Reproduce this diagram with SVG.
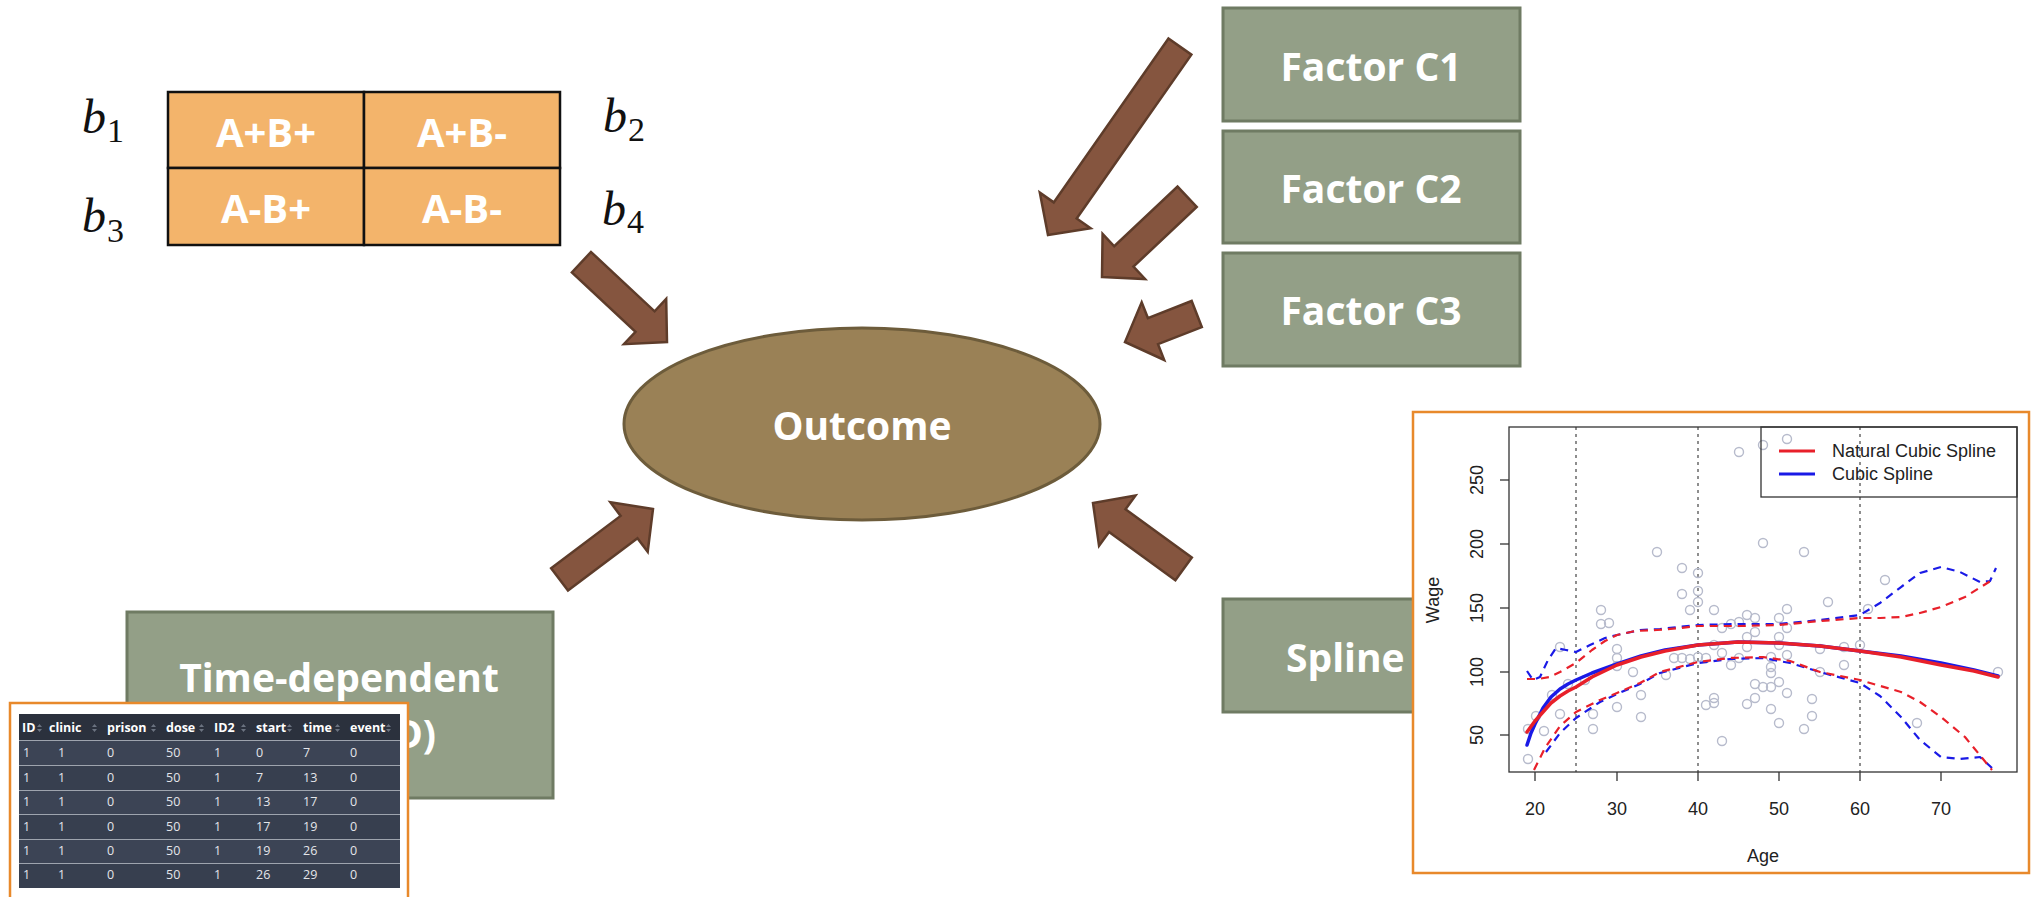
<svg xmlns="http://www.w3.org/2000/svg" width="2036" height="897" viewBox="0 0 2036 897">
  <style>
    .box { fill: #939f87; stroke: #6f7b63; stroke-width: 3; }
    .lbl { font-family: "Open Sans", "Liberation Sans", sans-serif; font-weight: 700; font-size: 39px; fill: #ffffff; }
    .cell { fill: #f3b46b; stroke: #111111; stroke-width: 2.5; }
    .cellt { font-family: "Open Sans", "Liberation Sans", sans-serif; font-weight: 700; font-size: 40px; fill: #ffffff; text-anchor: middle; }
    .coef { font-family: "Liberation Serif", "DejaVu Serif", serif; font-style: italic; font-size: 48px; fill: #111111; }
    .sub { font-family: "Liberation Serif", "DejaVu Serif", serif; font-size: 34px; fill: #111111; }
    .arrow { fill: #85553f; stroke: #5e3c2a; stroke-width: 2.5; stroke-linejoin: miter; }
    .frame { fill: #ffffff; stroke: #e8892b; stroke-width: 2.5; }
    .ax { font-family: "Liberation Sans", Arial, sans-serif; font-size: 18px; fill: #222222; }
    .pt { fill: none; stroke: #b7bbcc; stroke-width: 1.4; }
    .solid { fill: none; stroke-width: 3.5; stroke-linejoin: round; stroke-linecap: round; }
    .dash { fill: none; stroke-width: 2.2; stroke-dasharray: 8 6; stroke-linejoin: round; }
    .th { font-family: "Open Sans", "Liberation Sans", sans-serif; font-weight: 700; font-size: 12.5px; fill: #ffffff; }
    .td { font-family: "Open Sans", "Liberation Sans", sans-serif; font-size: 12.5px; fill: #e4e6ea; }
    .sort { fill: #6b7380; }
  </style>
  <defs>
    <!-- block arrow, tip at origin, length set per use -->
    <polygon id="arrow117" class="arrow" points="0,0 -30,-31 -30,-14 -117,-14 -117,14 -30,14 -30,31"/>
  </defs>

  <!-- 2x2 contrast table with coefficients -->
  <g id="contrast-table">
    <rect class="cell" x="168" y="92" width="196" height="76"/>
    <rect class="cell" x="364" y="92" width="196" height="76"/>
    <rect class="cell" x="168" y="168" width="196" height="77"/>
    <rect class="cell" x="364" y="168" width="196" height="77"/>
    <text class="cellt" x="266" y="147">A+B+</text>
    <text class="cellt" x="462" y="147">A+B-</text>
    <text class="cellt" x="266" y="223">A-B+</text>
    <text class="cellt" x="462" y="223">A-B-</text>
    <text class="coef" x="82" y="133">b</text><text class="sub" x="107" y="142">1</text>
    <text class="coef" x="603" y="132">b</text><text class="sub" x="628" y="141">2</text>
    <text class="coef" x="82" y="232">b</text><text class="sub" x="107" y="242">3</text>
    <text class="coef" x="602" y="225">b</text><text class="sub" x="627" y="233">4</text>
  </g>

  <!-- central outcome -->
  <g id="outcome">
    <ellipse cx="862" cy="424" rx="238" ry="96" fill="#9a8156" stroke="#6d5c3b" stroke-width="3"/>
    <text class="lbl" x="862" y="440" text-anchor="middle">Outcome</text>
  </g>

  <g id="factor-c1">
    <rect class="box" x="1223" y="8" width="297" height="113"/>
    <text class="lbl" x="1371" y="81" text-anchor="middle">Factor C1</text>
  </g>
  <g id="factor-c2">
    <rect class="box" x="1223" y="131" width="297" height="112"/>
    <text class="lbl" x="1371" y="203" text-anchor="middle">Factor C2</text>
  </g>
  <g id="factor-c3">
    <rect class="box" x="1223" y="253" width="297" height="113"/>
    <text class="lbl" x="1371" y="325" text-anchor="middle">Factor C3</text>
  </g>

  <!-- connectors -->
  <g id="connectors">
    <use href="#arrow117" transform="translate(667,342) rotate(43)"/>
    <use href="#arrow117" transform="translate(653,509) rotate(-37)"/>
    <polygon class="arrow" points="0,0 -30,-31 -30,-14 -112,-14 -112,14 -30,14 -30,31" transform="translate(1093,503) rotate(216)"/>
    <polygon class="arrow" points="0,0 -30,-31 -30,-14 -230,-14 -230,14 -30,14 -30,31" transform="translate(1048,235) rotate(125)"/>
    <use href="#arrow117" transform="translate(1102,277) rotate(136.7)"/>
    <polygon class="arrow" points="0,0 -30,-31 -30,-14 -77,-14 -77,14 -30,14 -30,31" transform="translate(1125,342) rotate(158.7)"/>
  </g>

  <!-- time-dependent covariate node with data excerpt -->
  <g id="time-dependent">
    <rect class="box" x="127" y="612" width="426" height="186"/>
    <text class="lbl" x="339" y="692" text-anchor="middle">Time-dependent</text>
    <text class="lbl" x="436" y="748" text-anchor="end">D)</text>
    <g id="td-table">
      <rect class="frame" x="10" y="703" width="398" height="200"/>
      <rect x="19" y="714" width="381" height="26" fill="#2b313d"/>
      <rect x="19" y="740" width="381" height="148" fill="#3c4455"/>
      <rect x="19" y="765" width="381" height="25" fill="#373f4f"/>
      <rect x="19" y="815" width="381" height="24" fill="#373f4f"/>
      <rect x="19" y="863" width="381" height="25" fill="#373f4f"/>
      <g stroke="#9ea4ae" stroke-width="1">
        <line x1="19" y1="740.5" x2="400" y2="740.5"/>
        <line x1="19" y1="765.5" x2="400" y2="765.5"/>
        <line x1="19" y1="790.5" x2="400" y2="790.5"/>
        <line x1="19" y1="814.5" x2="400" y2="814.5"/>
        <line x1="19" y1="839.5" x2="400" y2="839.5"/>
        <line x1="19" y1="863.5" x2="400" y2="863.5"/>
      </g>
      <g class="th">
        <text x="22" y="732">ID</text>
        <text x="49" y="732">clinic</text>
        <text x="107" y="732">prison</text>
        <text x="166" y="732">dose</text>
        <text x="214" y="732">ID2</text>
        <text x="256" y="732">start</text>
        <text x="303" y="732">time</text>
        <text x="350" y="732">event</text>
      </g>
      <g class="sort">
        <path d="M37,727 l2.5,-3 2.5,3z M37,729 l2.5,3 2.5,-3z"/>
        <path d="M92,727 l2.5,-3 2.5,3z M92,729 l2.5,3 2.5,-3z"/>
        <path d="M151,727 l2.5,-3 2.5,3z M151,729 l2.5,3 2.5,-3z"/>
        <path d="M199,727 l2.5,-3 2.5,3z M199,729 l2.5,3 2.5,-3z"/>
        <path d="M241,727 l2.5,-3 2.5,3z M241,729 l2.5,3 2.5,-3z"/>
        <path d="M287,727 l2.5,-3 2.5,3z M287,729 l2.5,3 2.5,-3z"/>
        <path d="M335,727 l2.5,-3 2.5,3z M335,729 l2.5,3 2.5,-3z"/>
        <path d="M386,727 l2.5,-3 2.5,3z M386,729 l2.5,3 2.5,-3z"/>
      </g>
      <g class="td">
        <text y="757"><tspan x="23">1</tspan><tspan x="58">1</tspan><tspan x="107">0</tspan><tspan x="166">50</tspan><tspan x="214">1</tspan><tspan x="256">0</tspan><tspan x="303">7</tspan><tspan x="350">0</tspan></text>
        <text y="782"><tspan x="23">1</tspan><tspan x="58">1</tspan><tspan x="107">0</tspan><tspan x="166">50</tspan><tspan x="214">1</tspan><tspan x="256">7</tspan><tspan x="303">13</tspan><tspan x="350">0</tspan></text>
        <text y="806"><tspan x="23">1</tspan><tspan x="58">1</tspan><tspan x="107">0</tspan><tspan x="166">50</tspan><tspan x="214">1</tspan><tspan x="256">13</tspan><tspan x="303">17</tspan><tspan x="350">0</tspan></text>
        <text y="831"><tspan x="23">1</tspan><tspan x="58">1</tspan><tspan x="107">0</tspan><tspan x="166">50</tspan><tspan x="214">1</tspan><tspan x="256">17</tspan><tspan x="303">19</tspan><tspan x="350">0</tspan></text>
        <text y="855"><tspan x="23">1</tspan><tspan x="58">1</tspan><tspan x="107">0</tspan><tspan x="166">50</tspan><tspan x="214">1</tspan><tspan x="256">19</tspan><tspan x="303">26</tspan><tspan x="350">0</tspan></text>
        <text y="879"><tspan x="23">1</tspan><tspan x="58">1</tspan><tspan x="107">0</tspan><tspan x="166">50</tspan><tspan x="214">1</tspan><tspan x="256">26</tspan><tspan x="303">29</tspan><tspan x="350">0</tspan></text>
      </g>
    </g>
  </g>

  <!-- spline node with fitted wage-age plot -->
  <g id="spline">
    <rect class="box" x="1223" y="599" width="297" height="113"/>
    <text class="lbl" x="1286" y="672">Spline</text>
    <g id="spline-plot">
      <rect class="frame" x="1413" y="412" width="616" height="461"/>
      <!-- knots -->
      <g stroke="#444444" stroke-width="1.2" stroke-dasharray="3 4">
        <line x1="1576" y1="427" x2="1576" y2="772"/>
        <line x1="1698" y1="427" x2="1698" y2="772"/>
        <line x1="1860" y1="427" x2="1860" y2="772"/>
      </g>
      <!-- observations -->
      <g class="pt">
        <circle cx="1787" cy="439" r="4.5"/><circle cx="1763" cy="445" r="4.5"/><circle cx="1739" cy="452" r="4.5"/>
        <circle cx="1657" cy="552" r="4.5"/><circle cx="1763" cy="543" r="4.5"/><circle cx="1804" cy="552" r="4.5"/>
        <circle cx="1682" cy="568" r="4.5"/><circle cx="1698" cy="573" r="4.5"/><circle cx="1698" cy="591" r="4.5"/>
        <circle cx="1682" cy="594" r="4.5"/><circle cx="1698" cy="602" r="4.5"/><circle cx="1690" cy="610" r="4.5"/>
        <circle cx="1714" cy="610" r="4.5"/><circle cx="1601" cy="610" r="4.5"/><circle cx="1601" cy="624" r="4.5"/>
        <circle cx="1609" cy="623" r="4.5"/><circle cx="1828" cy="602" r="4.5"/><circle cx="1885" cy="580" r="4.5"/>
        <circle cx="1868" cy="609" r="4.5"/><circle cx="1747" cy="615" r="4.5"/><circle cx="1755" cy="618" r="4.5"/>
        <circle cx="1779" cy="618" r="4.5"/><circle cx="1787" cy="609" r="4.5"/><circle cx="1731" cy="624" r="4.5"/>
        <circle cx="1739" cy="622" r="4.5"/><circle cx="1722" cy="628" r="4.5"/><circle cx="1747" cy="637" r="4.5"/>
        <circle cx="1755" cy="632" r="4.5"/><circle cx="1787" cy="628" r="4.5"/><circle cx="1779" cy="637" r="4.5"/>
        <circle cx="1560" cy="647" r="4.5"/><circle cx="1617" cy="649" r="4.5"/><circle cx="1617" cy="658" r="4.5"/>
        <circle cx="1617" cy="666" r="4.5"/><circle cx="1633" cy="672" r="4.5"/><circle cx="1666" cy="675" r="4.5"/>
        <circle cx="1674" cy="658" r="4.5"/><circle cx="1682" cy="658" r="4.5"/><circle cx="1690" cy="659" r="4.5"/>
        <circle cx="1698" cy="657" r="4.5"/><circle cx="1706" cy="658" r="4.5"/><circle cx="1714" cy="645" r="4.5"/>
        <circle cx="1722" cy="653" r="4.5"/><circle cx="1731" cy="665" r="4.5"/><circle cx="1739" cy="658" r="4.5"/>
        <circle cx="1747" cy="647" r="4.5"/><circle cx="1771" cy="657" r="4.5"/><circle cx="1771" cy="667" r="4.5"/>
        <circle cx="1771" cy="673" r="4.5"/><circle cx="1779" cy="645" r="4.5"/><circle cx="1787" cy="655" r="4.5"/>
        <circle cx="1820" cy="649" r="4.5"/><circle cx="1844" cy="647" r="4.5"/><circle cx="1860" cy="645" r="4.5"/>
        <circle cx="1844" cy="665" r="4.5"/><circle cx="1820" cy="672" r="4.5"/><circle cx="1568" cy="684" r="4.5"/>
        <circle cx="1585" cy="680" r="4.5"/><circle cx="1552" cy="695" r="4.5"/><circle cx="1641" cy="695" r="4.5"/>
        <circle cx="1755" cy="684" r="4.5"/><circle cx="1763" cy="687" r="4.5"/><circle cx="1771" cy="687" r="4.5"/>
        <circle cx="1779" cy="682" r="4.5"/><circle cx="1787" cy="693" r="4.5"/><circle cx="1706" cy="705" r="4.5"/>
        <circle cx="1714" cy="698" r="4.5"/><circle cx="1714" cy="703" r="4.5"/><circle cx="1747" cy="704" r="4.5"/>
        <circle cx="1755" cy="698" r="4.5"/><circle cx="1771" cy="709" r="4.5"/><circle cx="1812" cy="699" r="4.5"/>
        <circle cx="1617" cy="707" r="4.5"/><circle cx="1560" cy="714" r="4.5"/><circle cx="1593" cy="714" r="4.5"/>
        <circle cx="1536" cy="716" r="4.5"/><circle cx="1641" cy="717" r="4.5"/><circle cx="1812" cy="716" r="4.5"/>
        <circle cx="1779" cy="723" r="4.5"/><circle cx="1804" cy="729" r="4.5"/><circle cx="1917" cy="723" r="4.5"/>
        <circle cx="1528" cy="729" r="4.5"/><circle cx="1544" cy="731" r="4.5"/><circle cx="1593" cy="729" r="4.5"/>
        <circle cx="1722" cy="741" r="4.5"/><circle cx="1528" cy="759" r="4.5"/><circle cx="1998" cy="672" r="4.5"/>
      </g>
      <!-- confidence bands -->
      <polyline class="dash" stroke="#1a1ae6" points="1527,671 1533,680 1540,677 1548,660 1556,648 1566,650 1576,652 1590,645 1605,638 1617,635 1640,630 1660,629 1698,625 1740,624 1779,624 1820,620 1860,615 1880,603 1901,587 1920,573 1941,567 1960,572 1980,582 1990,581 1996,568"/>
      <polyline class="dash" stroke="#e8202a" points="1527,679 1538,679 1550,677 1560,672 1576,663 1592,650 1605,641 1617,635 1635,631 1657,630 1680,628 1698,626 1740,626 1779,625 1820,621 1860,618 1880,618 1901,617 1920,613 1941,607 1965,597 1992,580"/>
      <polyline class="dash" stroke="#1a1ae6" points="1546,752 1560,733 1576,718 1600,702 1617,694 1640,684 1660,673 1698,663 1730,659 1763,658 1790,663 1820,672 1860,683 1880,696 1901,717 1920,740 1941,757 1960,759 1980,757 1992,768"/>
      <polyline class="dash" stroke="#e8202a" points="1534,770 1545,748 1560,726 1576,712 1600,700 1617,693 1640,683 1660,672 1698,662 1730,658 1763,657 1790,661 1820,672 1860,680 1901,692 1920,702 1941,717 1965,737 1992,770"/>
      <!-- fitted curves -->
      <polyline class="solid" stroke="#1a1ae6" points="1527,745 1531,733 1535,724 1543,708 1551,697 1560,689 1568,684 1576,680 1592,673 1617,664 1641,656 1665,650 1698,645 1738,642 1779,643 1820,646 1860,651 1901,656 1941,663 1974,670 1998,676"/>
      <polyline class="solid" stroke="#e8202a" points="1527,732 1535,721 1543,712 1551,703 1560,696 1568,691 1576,687 1592,677 1617,665 1641,657 1665,651 1698,645 1738,642 1779,643 1820,646 1860,651 1901,657 1941,665 1974,671 1998,677"/>
      <!-- axes -->
      <rect x="1509" y="427" width="508" height="345" fill="none" stroke="#333333" stroke-width="1.3"/>
      <g stroke="#333333" stroke-width="1.3">
        <line x1="1535" y1="772" x2="1535" y2="781"/><line x1="1617" y1="772" x2="1617" y2="781"/>
        <line x1="1698" y1="772" x2="1698" y2="781"/><line x1="1779" y1="772" x2="1779" y2="781"/>
        <line x1="1860" y1="772" x2="1860" y2="781"/><line x1="1941" y1="772" x2="1941" y2="781"/>
        <line x1="1509" y1="735" x2="1500" y2="735"/><line x1="1509" y1="672" x2="1500" y2="672"/>
        <line x1="1509" y1="608" x2="1500" y2="608"/><line x1="1509" y1="544" x2="1500" y2="544"/>
        <line x1="1509" y1="480" x2="1500" y2="480"/>
      </g>
      <g class="ax" text-anchor="middle">
        <text x="1535" y="815">20</text><text x="1617" y="815">30</text><text x="1698" y="815">40</text>
        <text x="1779" y="815">50</text><text x="1860" y="815">60</text><text x="1941" y="815">70</text>
        <text transform="translate(1483,735) rotate(-90)">50</text>
        <text transform="translate(1483,672) rotate(-90)">100</text>
        <text transform="translate(1483,608) rotate(-90)">150</text>
        <text transform="translate(1483,544) rotate(-90)">200</text>
        <text transform="translate(1483,480) rotate(-90)">250</text>
        <text x="1763" y="862">Age</text>
        <text transform="translate(1439,600) rotate(-90)">Wage</text>
      </g>
      <!-- legend -->
      <rect x="1761" y="427" width="256" height="70" fill="none" stroke="#333333" stroke-width="1.3"/>
      <line x1="1779" y1="451" x2="1815" y2="451" stroke="#e8202a" stroke-width="3"/>
      <line x1="1779" y1="474" x2="1815" y2="474" stroke="#1a1ae6" stroke-width="3"/>
      <text class="ax" x="1832" y="457">Natural Cubic Spline</text>
      <text class="ax" x="1832" y="480">Cubic Spline</text>
    </g>
  </g>
</svg>
